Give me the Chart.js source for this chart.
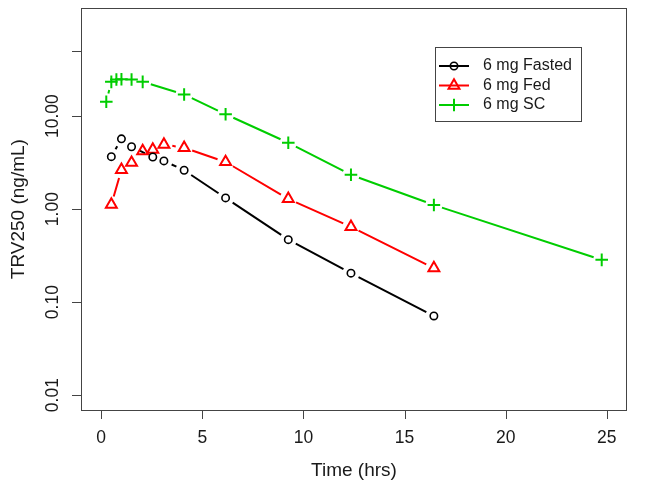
<!DOCTYPE html>
<html lang="en">
<head>
  <meta charset="UTF-8" />
  <title>TRV250 concentration-time</title>
  <script src="https://cdn.jsdelivr.net/npm/chart.js@4.4.0/dist/chart.umd.min.js"></script>
  <style>
    html, body { margin: 0; padding: 0; background: #fff; }
    #wrap { width: 645px; height: 490px; }
  </style>
</head>
<body>
  <div id="wrap"><canvas id="pk" width="645" height="490"></canvas></div>

  <script>
    // sampling times (hrs) and concentrations (ng/mL)
    const timeFasted = [0.5, 1, 1.5, 2.55, 3.1, 4.1, 6.15, 9.25, 12.35, 16.45];
    const concFasted = [3.67, 5.7, 4.69, 3.64, 3.30, 2.62, 1.32, 0.47, 0.205, 0.071];

    const timeFed = [0.5, 1, 1.5, 2.05, 2.55, 3.1, 4.1, 6.15, 9.25, 12.35, 16.45];
    const concFed = [1.12, 2.65, 3.16, 4.21, 4.38, 4.96, 4.57, 3.22, 1.29, 0.644, 0.232];

    const timeSC = [0.25, 0.5, 0.75, 1, 1.5, 2.05, 4.1, 6.15, 9.25, 12.35, 16.45, 24.75];
    const concSC = [14.3, 23.4, 24.8, 24.9, 24.8, 23.4, 17.1, 10.5, 5.17, 2.34, 1.11, 0.285];

    const seriesLabels = ['6 mg Fasted', '6 mg Fed', '6 mg SC'];

    const xTicks = [0, 5, 10, 15, 20, 25];
    const yTicks = [0.01, 0.1, 1, 10, 50];
    const yTickLabels = ['0.01', '0.10', '1.00', '10.00', ''];

    const FAMILY = '"Liberation Sans", Arial, sans-serif';
    const GAP = 8.5; // R type="b": segments stop short of each point

    const toXY = (xs, ys) => xs.map((x, i) => ({ x, y: ys[i] }));

    const datasets = [
      {
        label: seriesLabels[0],
        data: toXY(timeFasted, concFasted),
        borderColor: '#000000',
        pointStyle: 'circle',
        pointRadius: 3.7,
        pointBorderWidth: 1.6
      },
      {
        label: seriesLabels[1],
        data: toXY(timeFed, concFed),
        borderColor: '#FF0000',
        pointStyle: 'triangle',
        pointRadius: 6.3,
        pointBorderWidth: 2
      },
      {
        label: seriesLabels[2],
        data: toXY(timeSC, concSC),
        borderColor: '#00CD00',
        pointStyle: 'cross',
        pointRadius: 6.3,
        pointBorderWidth: 2
      }
    ].map(ds => Object.assign(ds, {
      showLine: false,
      borderWidth: 2,
      pointBorderColor: ds.borderColor,
      pointBackgroundColor: 'rgba(0,0,0,0)',
      pointHoverRadius: ds.pointRadius
    }));

    // connecting segments with a gap round every point (like R's type="b")
    const gapLines = {
      id: 'gapLines',
      beforeDatasetsDraw(chart) {
        const ctx = chart.ctx;
        ctx.save();
        ctx.lineWidth = 2;
        ctx.lineCap = 'butt';
        chart.data.datasets.forEach((ds, di) => {
          const pts = chart.getDatasetMeta(di).data;
          ctx.strokeStyle = ds.borderColor;
          ctx.beginPath();
          for (let i = 1; i < pts.length; i++) {
            const a = pts[i - 1], b = pts[i];
            const dx = b.x - a.x, dy = b.y - a.y;
            const len = Math.hypot(dx, dy);
            if (len <= 2 * GAP) continue;
            const ux = dx / len, uy = dy / len;
            ctx.moveTo(a.x + ux * GAP, a.y + uy * GAP);
            ctx.lineTo(b.x - ux * GAP, b.y - uy * GAP);
          }
          ctx.stroke();
        });
        ctx.restore();
      }
    };

    // R-style box, axes and legend
    const rAxes = {
      id: 'rAxes',
      afterDraw(chart) {
        const ctx = chart.ctx;
        const a = chart.chartArea;
        const xs = chart.scales.x, ys = chart.scales.y;
        ctx.save();
        ctx.strokeStyle = '#444';
        ctx.lineWidth = 1;
        ctx.strokeRect(Math.round(a.left) + 0.5, Math.round(a.top) + 0.5,
                       Math.round(a.right - a.left) - 1, Math.round(a.bottom - a.top));

        ctx.fillStyle = '#1a1a1a';
        ctx.textAlign = 'center';
        ctx.textBaseline = 'middle';

        // x axis
        ctx.beginPath();
        xTicks.forEach(v => {
          const px = Math.round(xs.getPixelForValue(v)) + 0.5;
          ctx.moveTo(px, a.bottom);
          ctx.lineTo(px, a.bottom + 9);
        });
        ctx.stroke();
        ctx.font = '17.5px ' + FAMILY;
        xTicks.forEach(v => ctx.fillText(String(v), xs.getPixelForValue(v), 438));
        ctx.font = '19px ' + FAMILY;
        ctx.fillText('Time (hrs)', (a.left + a.right) / 2, 471);

        // y axis
        ctx.beginPath();
        yTicks.forEach(v => {
          const py = Math.round(ys.getPixelForValue(v)) + 0.5;
          ctx.moveTo(a.left, py);
          ctx.lineTo(a.left - 9, py);
        });
        ctx.stroke();
        ctx.font = '17.5px ' + FAMILY;
        yTicks.forEach((v, i) => {
          ctx.save();
          ctx.translate(53, ys.getPixelForValue(v));
          ctx.rotate(-Math.PI / 2);
          ctx.fillText(yTickLabels[i], 0, 0);
          ctx.restore();
        });
        ctx.font = '19px ' + FAMILY;
        ctx.save();
        ctx.translate(19, (a.top + a.bottom) / 2);
        ctx.rotate(-Math.PI / 2);
        ctx.fillText('TRV250 (ng/mL)', 0, 0);
        ctx.restore();

        // legend
        ctx.strokeStyle = '#444';
        ctx.strokeRect(435.5, 47.5, 146, 74);
        ctx.font = '16px ' + FAMILY;
        const rows = [66, 85.5, 105];
        chart.data.datasets.forEach((ds, i) => {
          const y = rows[i];
          ctx.strokeStyle = ds.borderColor;
          ctx.lineWidth = 2;
          ctx.beginPath();
          ctx.moveTo(439, y);
          ctx.lineTo(469, y);
          ctx.stroke();
          ctx.fillStyle = 'rgba(0,0,0,0)';
          ctx.lineWidth = ds.pointBorderWidth;
          Chart.helpers.drawPoint(ctx, {
            pointStyle: ds.pointStyle,
            radius: ds.pointRadius,
            rotation: 0,
            borderWidth: ds.pointBorderWidth
          }, 454, y);
          ctx.fillStyle = '#1a1a1a';
          ctx.textAlign = 'left';
          ctx.fillText(ds.label, 483, y);
        });
        ctx.restore();
      }
    };

    new Chart(document.getElementById('pk'), {
      type: 'line',
      data: { datasets },
      options: {
        responsive: false,
        animation: false,
        events: [],
        layout: { padding: { left: 81, right: 18, top: 4, bottom: 80 } },
        scales: {
          x: { type: 'linear', min: -1, max: 26, display: false },
          y: { type: 'logarithmic', min: Math.pow(10, -2.16), max: Math.pow(10, 2.16), display: false }
        },
        plugins: { legend: { display: false }, tooltip: { enabled: false } }
      },
      plugins: [gapLines, rAxes]
    });
  </script>
</body>
</html>
